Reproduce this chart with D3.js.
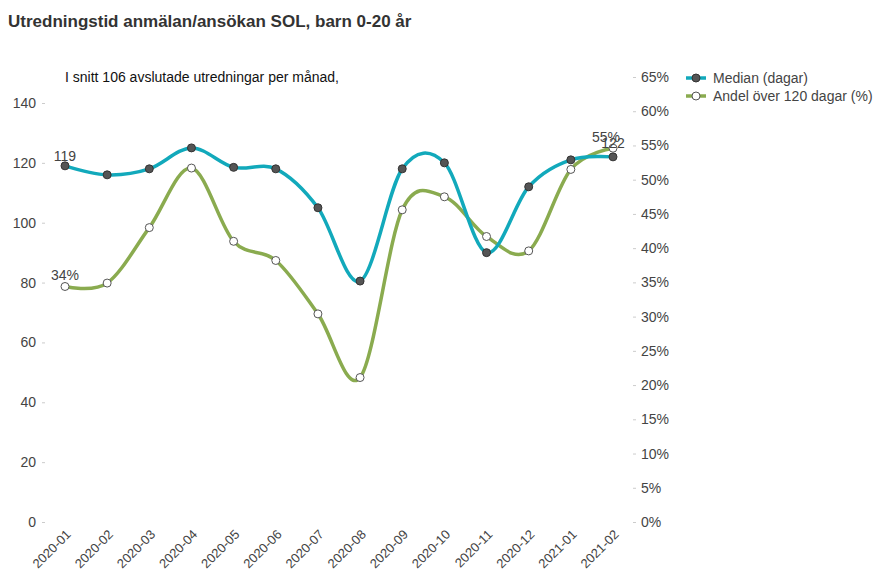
<!DOCTYPE html>
<html>
<head>
<meta charset="utf-8">
<script src="https://cdn.jsdelivr.net/npm/d3@7"></script>
<style>
  body { margin: 0; background: #fff; }
  svg text { font-family: "Liberation Sans", Arial, sans-serif; }
</style>
</head>
<body>
<svg id="chart" width="878" height="570"></svg>
<script>
// months on the x axis
var months = ["2020-01","2020-02","2020-03","2020-04","2020-05","2020-06","2020-07",
              "2020-08","2020-09","2020-10","2020-11","2020-12","2021-01","2021-02"];
// median days
var median = [119, 116, 118, 125, 118.5, 118, 105, 80.5, 118, 120, 90, 112, 121, 122];
// share over 120 days (%)
var andel = [34.4, 34.9, 43, 51.7, 41, 38.2, 30.4, 21.1, 45.6, 47.5, 41.7, 39.6, 51.5, 54.6];
var leftTicks = [0, 20, 40, 60, 80, 100, 120, 140];
var rightTicks = d3.range(0, 66, 5);

var svg = d3.select("#chart");

var x = d3.scalePoint().domain(months).range([65, 613]);
var yL = d3.scaleLinear().domain([0, 140]).range([522, 103]);
var yR = d3.scaleLinear().domain([0, 65]).range([522, 77]);

// title
svg.append("text").attr("x", 8).attr("y", 27)
  .attr("font-size", 17).attr("font-weight", "bold").attr("fill", "#333")
  .text("Utredningstid anmälan/ansökan SOL, barn 0-20 år");

// left axis
var gl = svg.append("g").attr("transform", "translate(45,0)")
  .call(d3.axisLeft(yL).tickValues(leftTicks).tickSize(3).tickPadding(6));
gl.select(".domain").remove();
gl.selectAll("line").attr("stroke", "#ccc");
gl.selectAll("text").attr("font-size", 14).attr("fill", "#444");

// right axis
var gr = svg.append("g").attr("transform", "translate(633,0)")
  .call(d3.axisRight(yR).tickValues(rightTicks).tickSize(3).tickPadding(5)
    .tickFormat(function(d) { return d + "%"; }));
gr.select(".domain").remove();
gr.selectAll("line").attr("stroke", "#ccc");
gr.selectAll("text").attr("font-size", 14).attr("fill", "#444");

// x axis labels
var gx = svg.append("g").attr("transform", "translate(0,529)")
  .call(d3.axisBottom(x).tickSize(0).tickPadding(0));
gx.select(".domain").remove();
gx.selectAll("text")
  .attr("font-size", 13).attr("fill", "#444")
  .attr("text-anchor", "end")
  .attr("dy", "0.35em")
  .attr("transform", "translate(3,3) rotate(-45)");

// annotation
svg.append("text").attr("x", 65).attr("y", 82)
  .attr("font-size", 14).attr("fill", "#111")
  .text("I snitt 106 avslutade utredningar per månad,");

var curve = d3.curveCardinal.tension(0);

var lineM = d3.line().x(function(d, i) { return x(months[i]); })
  .y(function(d) { return yL(d); }).curve(curve);
var lineA = d3.line().x(function(d, i) { return x(months[i]); })
  .y(function(d) { return yR(d); }).curve(curve);

svg.append("path").datum(andel).attr("d", lineA)
  .attr("fill", "none").attr("stroke", "#8aab4f").attr("stroke-width", 3.5);
svg.append("path").datum(median).attr("d", lineM)
  .attr("fill", "none").attr("stroke", "#12a9bb").attr("stroke-width", 3.5);

svg.append("g").selectAll("circle").data(median).enter().append("circle")
  .attr("cx", function(d, i) { return x(months[i]); })
  .attr("cy", function(d) { return yL(d); })
  .attr("r", 4).attr("fill", "#555").attr("stroke", "#333").attr("stroke-width", 1);

svg.append("g").selectAll("circle").data(andel).enter().append("circle")
  .attr("cx", function(d, i) { return x(months[i]); })
  .attr("cy", function(d) { return yR(d); })
  .attr("r", 4).attr("fill", "#fff").attr("stroke", "#555").attr("stroke-width", 1);

// data labels at first and last point
var lab = svg.append("g").attr("font-size", 14).attr("fill", "#444").attr("text-anchor", "middle");
var last = months.length - 1;
lab.append("text").attr("x", x(months[0])).attr("y", yL(median[0]) - 5).text(Math.round(median[0]));
lab.append("text").attr("x", x(months[0])).attr("y", yR(andel[0]) - 6).text(Math.round(andel[0]) + "%");
lab.append("text").attr("x", x(months[last])).attr("y", yL(median[last]) - 9).text(Math.round(median[last]));
lab.append("text").attr("x", x(months[last]) - 7).attr("y", yR(andel[last]) - 6)
  .text(Math.round(andel[last]) + "%");

// legend
var legend = [
  { name: "Median (dagar)", color: "#12a9bb", fill: "#555", stroke: "#333" },
  { name: "Andel över 120 dagar (%)", color: "#8aab4f", fill: "#fff", stroke: "#555" }
];
var lg = svg.append("g");
legend.forEach(function(d, i) {
  var yy = 78 + i * 18;
  lg.append("line").attr("x1", 686).attr("x2", 706).attr("y1", yy).attr("y2", yy)
    .attr("stroke", d.color).attr("stroke-width", 3.5);
  lg.append("circle").attr("cx", 696).attr("cy", yy).attr("r", 4)
    .attr("fill", d.fill).attr("stroke", d.stroke);
  lg.append("text").attr("x", 713).attr("y", yy + 5).attr("font-size", 14)
    .attr("fill", "#444").text(d.name);
});
</script>
</body>
</html>
